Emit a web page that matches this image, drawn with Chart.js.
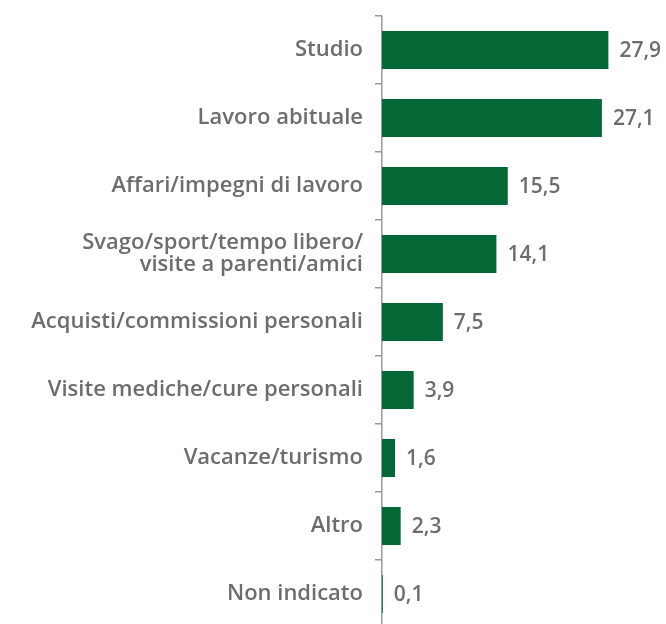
<!DOCTYPE html>
<html><head><meta charset="utf-8">
<script src="https://cdn.jsdelivr.net/npm/chart.js@4"></script>
<style>html,body{margin:0;padding:0;background:#fff;overflow:hidden}#wrap{width:666px;height:658px;margin-top:-7px}</style>
</head><body><div id="wrap"><canvas id="c" width="666" height="658"></canvas></div>
<script>
const categories = [
  "Studio",
  "Lavoro abituale",
  "Affari/impegni di lavoro",
  ["Svago/sport/tempo libero/", "visite a parenti/amici"],
  "Acquisti/commissioni personali",
  "Visite mediche/cure personali",
  "Vacanze/turismo",
  "Altro",
  "Non indicato"
];
const values = [27.9, 27.1, 15.5, 14.1, 7.5, 3.9, 1.6, 2.3, 0.1];
const valueLabels = ["27,9", "27,1", "15,5", "14,1", "7,5", "3,9", "1,6", "2,3", "0,1"];

const textColor = "#6d6d6d";
const fontFamily = "'Open Sans', 'Noto Sans', sans-serif";

const valueLabelPlugin = {
  id: "valueLabels",
  afterDatasetsDraw(chart) {
    const ctx = chart.ctx;
    const meta = chart.getDatasetMeta(0);
    ctx.save();
    ctx.font = "600 21px " + fontFamily;
    ctx.fillStyle = textColor;
    ctx.textAlign = "left";
    ctx.textBaseline = "middle";
    meta.data.forEach((bar, i) => {
      ctx.fillText(valueLabels[i], bar.x + 11, bar.y + 1);
    });
    ctx.restore();
  }
};

new Chart(document.getElementById("c"), {
  type: "bar",
  data: {
    labels: categories,
    datasets: [{
      data: values,
      backgroundColor: "#036836",
      borderWidth: 0,
      barPercentage: 0.56,
      categoryPercentage: 1.0
    }]
  },
  options: {
    indexAxis: "y",
    responsive: false,
    animation: false,
    layout: { padding: { top: 10, bottom: 2, left: 0, right: 0 } },
    plugins: { legend: { display: false }, tooltip: { enabled: false } },
    scales: {
      x: { display: false, min: 0, max: 35 },
      y: {
        afterFit(scale) { scale.width = 382; },
        border: { display: true, color: "#9a9a9a", width: 1.5 },
        grid: { display: true, drawOnChartArea: false, drawTicks: true, tickLength: 7, color: "#9a9a9a", lineWidth: 1.5, offset: true },
        ticks: {
          padding: 12,
          color: textColor,
          font: { family: fontFamily, size: 22, weight: "600", lineHeight: 1.0 },
          autoSkip: false
        }
      }
    }
  },
  plugins: [valueLabelPlugin]
});
</script></body></html>
